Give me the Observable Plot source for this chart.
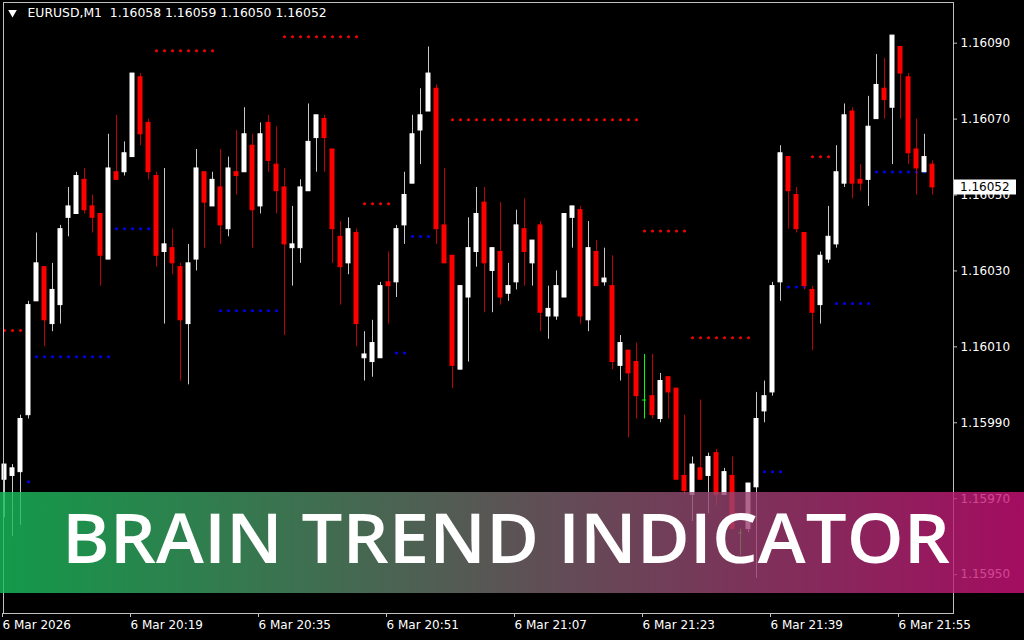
<!DOCTYPE html>
<html><head><meta charset="utf-8">
<script src="https://cdn.jsdelivr.net/npm/d3@7"></script>
<script src="https://cdn.jsdelivr.net/npm/@observablehq/plot@0.6"></script>
<style>html,body{margin:0;padding:0;background:#000;overflow:hidden}</style>
</head><body><div id="chart"></div>
<script>
const symbol = "EURUSD";
const timeframe = "M1";
const bannerTitle = "BRAIN TREND INDICATOR";

const open = [
1.15975,1.15976,1.15977,1.15992,1.16022,1.16031,1.16016,1.16021,1.16044,1.16045,
1.16054,1.16047,1.16045,1.16033,1.16056,1.16056,1.16060,1.16081,1.16069,1.16055,
1.16035,1.16036,1.16031,1.16016,1.16033,1.16056,1.16047,1.16052,1.16041,1.16056,
1.16056,1.16063,1.16047,1.16069,1.16058,1.16052,1.16036,1.16036,1.16051,1.16065,
1.16070,1.16062,1.16039,1.16032,1.16040,1.16007,1.16006,1.16007,1.16027,1.16027,
1.16042,1.16053,1.16067,1.16072,1.16078,1.16042,1.16034,1.16004,1.16023,1.16035,
1.16048,1.16030,1.16035,1.16024,1.16027,1.16041,1.16032,1.16042,1.16018,1.16018,
1.16023,1.16044,1.16046,1.16017,1.16035,1.16027,1.16026,1.16005,1.16009,1.16006,
1.15996,1.15997,1.15991,1.16002,1.15999,1.15976,1.15971,1.15978,1.15976,1.15982,
1.15971,1.15976,1.15961,1.15962,1.15973,1.15993,1.15998,1.16027,1.16060,1.16050,
1.16040,1.16025,1.16021,1.16033,1.16037,1.16053,1.16072,1.16054,1.16054,1.16070,
1.16078,1.16073,1.16089,1.16081,1.16062,1.16056,1.16058];

const high = [
1.15979,1.15979,1.15992,1.16022,1.16040,1.16031,1.16032,1.16042,1.16052,1.16056,
1.16057,1.16050,1.16045,1.16066,1.16071,1.16064,1.16082,1.16082,1.16070,1.16056,
1.16057,1.16041,1.16032,1.16037,1.16062,1.16056,1.16056,1.16062,1.16060,1.16067,
1.16073,1.16066,1.16069,1.16071,1.16068,1.16057,1.16047,1.16054,1.16074,1.16071,
1.16071,1.16062,1.16043,1.16044,1.16041,1.16014,1.16017,1.16027,1.16035,1.16042,
1.16056,1.16071,1.16078,1.16089,1.16079,1.16057,1.16034,1.16026,1.16044,1.16052,
1.16052,1.16036,1.16048,1.16032,1.16046,1.16049,1.16038,1.16043,1.16026,1.16030,
1.16045,1.16047,1.16047,1.16043,1.16038,1.16036,1.16034,1.16013,1.16009,1.16011,
1.16008,1.16008,1.16003,1.16002,1.15999,1.15992,1.15981,1.15996,1.15982,1.15983,
1.15978,1.15981,1.15962,1.15974,1.15998,1.16001,1.16027,1.16063,1.16060,1.16052,
1.16040,1.16026,1.16035,1.16047,1.16063,1.16074,1.16073,1.16058,1.16076,1.16087,
1.16086,1.16092,1.16089,1.16082,1.16070,1.16066,1.16059];

const low = [
1.15965,1.15960,1.15963,1.15991,1.16022,1.16010,1.16014,1.16016,1.16039,1.16045,
1.16045,1.16040,1.16026,1.16033,1.16054,1.16055,1.16060,1.16063,1.16054,1.16031,
1.16016,1.16029,1.16001,1.16000,1.16030,1.16036,1.16047,1.16037,1.16039,1.16050,
1.16056,1.16036,1.16045,1.16056,1.16045,1.16013,1.16026,1.16032,1.16051,1.16056,
1.16056,1.16032,1.16021,1.16029,1.16010,1.16001,1.16002,1.16007,1.16016,1.16023,
1.16037,1.16053,1.16058,1.16072,1.16037,1.16032,1.15999,1.16004,1.16006,1.16031,
1.16019,1.16019,1.16021,1.16022,1.16025,1.16026,1.16026,1.16014,1.16012,1.16017,
1.16023,1.16036,1.16016,1.16014,1.16026,1.16026,1.16004,1.16001,1.15986,1.15991,
1.15991,1.15991,1.15990,1.15991,1.15975,1.15971,1.15964,1.15975,1.15966,1.15968,
1.15971,1.15962,1.15955,1.15961,1.15949,1.15990,1.15997,1.16022,1.16041,1.16040,
1.16025,1.16009,1.16016,1.16032,1.16036,1.16052,1.16049,1.16051,1.16047,1.16070,
1.16070,1.16058,1.16070,1.16058,1.16050,1.16056,1.16050];

const close = [
1.15979,1.15978,1.15991,1.16021,1.16032,1.16017,1.16025,1.16041,1.16047,1.16055,
1.16046,1.16044,1.16034,1.16057,1.16054,1.16061,1.16082,1.16066,1.16056,1.16034,
1.16037,1.16032,1.16017,1.16032,1.16057,1.16048,1.16054,1.16042,1.16057,1.16055,
1.16066,1.16046,1.16066,1.16059,1.16051,1.16037,1.16037,1.16052,1.16064,1.16071,
1.16065,1.16041,1.16031,1.16041,1.16016,1.16008,1.16011,1.16026,1.16026,1.16041,
1.16050,1.16066,1.16071,1.16082,1.16041,1.16032,1.16005,1.16026,1.16036,1.16045,
1.16032,1.16036,1.16023,1.16026,1.16042,1.16035,1.16038,1.16019,1.16020,1.16026,
1.16045,1.16047,1.16018,1.16036,1.16026,1.16028,1.16006,1.16011,1.16003,1.15997,
1.15996,1.15992,1.16001,1.15998,1.15975,1.15972,1.15979,1.15975,1.15981,1.15971,
1.15977,1.15962,1.15961,1.15974,1.15991,1.15997,1.16026,1.16061,1.16051,1.16041,
1.16026,1.16019,1.16034,1.16039,1.16056,1.16071,1.16053,1.16053,1.16068,1.16079,
1.16075,1.16092,1.16082,1.16061,1.16057,1.16060,1.16052];

const _ = null;
// Brain Trend stop levels (red = above price, blue = below price), one per bar
const redStop = [
1.160143,1.160143,1.160143,_,_,_,_,_,_,_,
_,_,_,_,_,_,_,_,_,1.16088,
1.16088,1.16088,1.16088,1.16088,1.16088,1.16088,1.16088,_,_,_,
_,_,_,_,_,1.160917,1.160917,1.160917,1.160917,1.160917,
1.160917,1.160917,1.160917,1.160917,1.160917,1.160477,1.160477,1.160477,1.160477,_,
_,_,_,_,_,_,1.160698,1.160698,1.160698,1.160698,
1.160698,1.160698,1.160698,1.160698,1.160698,1.160698,1.160698,1.160698,1.160698,1.160698,
1.160698,1.160698,1.160698,1.160698,1.160698,1.160698,1.160698,1.160698,1.160698,1.160698,
1.160405,1.160405,1.160405,1.160405,1.160405,1.160405,1.160124,1.160124,1.160124,1.160124,
1.160124,1.160124,1.160124,1.160124,_,_,_,_,_,_,
_,1.160601,1.160601,1.160601,_,_,_,_,_,_,
_,_,_,_,_,_,_];

const blueStop = [
_,_,_,1.159745,1.160074,1.160074,1.160074,1.160074,1.160074,1.160074,
1.160074,1.160074,1.160074,1.160074,1.160411,1.160411,1.160411,1.160411,1.160411,_,
_,_,_,_,_,_,_,1.160195,1.160195,1.160195,
1.160195,1.160195,1.160195,1.160195,1.160195,_,_,_,_,_,
_,_,_,_,_,_,_,_,_,1.160084,
1.160084,1.160391,1.160391,1.160391,_,_,_,_,_,_,
_,_,_,_,_,_,_,_,_,_,
_,_,_,_,_,_,_,_,_,_,
_,_,_,_,_,_,_,_,_,_,
_,_,_,_,_,1.159771,1.159771,1.159771,1.160258,1.160258,
1.160258,_,_,_,1.160214,1.160214,1.160214,1.160214,1.160214,1.160561,
1.160561,1.160561,1.160561,1.160561,1.160561,1.160561,1.160561];

const yTicks = [1.15950,1.15970,1.15990,1.16010,1.16030,1.16050,1.16070,1.16090];
const xTickBars = [0,16,32,48,64,80,96,112];
const xTickLabels = ["6 Mar 2026","6 Mar 20:19","6 Mar 20:35","6 Mar 20:51","6 Mar 21:07","6 Mar 21:23","6 Mar 21:39","6 Mar 21:55"];

// ---- build tables ----
const candles = open.map((o, i) => ({i, o, h: high[i], l: low[i], c: close[i]}));
const bodies = candles.filter(d => d.o !== d.c);
const dojis = candles.filter(d => d.o === d.c);
const reds = redStop.map((v, i) => ({i, v})).filter(d => d.v !== null);
const blues = blueStop.map((v, i) => ({i, v})).filter(d => d.v !== null);
const last = candles[candles.length - 1];
const header = `${symbol},${timeframe}  ${[last.o, last.h, last.l, last.c].map(v => v.toFixed(5)).join(" ")}`;

const BULL = "#ffffff", BEAR = "#ff0000", DOJI = "#00ff00";
const wickColor = d => d.c > d.o ? "#c8c8c8" : d.c < d.o ? "#c00000" : DOJI;
const bodyColor = d => d.c > d.o ? BULL : BEAR;
const halfBody = 0.25; // in bars

function priceBox(index, scales, values, dims) {
  const y = scales.y(last.c);
  const x0 = dims.width - dims.marginRight;
  const g = d3.create("svg:g");
  g.append("rect").attr("x", x0 + 1).attr("y", Math.round(y) - 7.5).attr("width", 62).attr("height", 15).attr("fill", "#fff");
  g.append("text").attr("x", x0 + 7).attr("y", y).attr("dy", "0.35em")
    .attr("text-anchor", "start")
    .attr("fill", "#000").attr("font-size", 12).attr("font-family", "DejaVu Sans")
    .text(last.c.toFixed(5));
  return g.node();
}

function banner(index, scales, values, dims) {
  const g = d3.create("svg:g");
  const grad = g.append("defs").append("linearGradient").attr("id", "bannerGrad")
    .attr("x1", 0).attr("x2", 1).attr("y1", 0).attr("y2", 0);
  grad.append("stop").attr("offset", 0).attr("stop-color", "rgb(24,192,92)");
  grad.append("stop").attr("offset", 1).attr("stop-color", "rgb(204,16,120)");
  g.append("rect").attr("x", 0).attr("y", 492).attr("width", dims.width).attr("height", 101)
    .attr("fill", "url(#bannerGrad)").attr("fill-opacity", 0.8);
  g.append("text").attr("x", 62).attr("y", 563)
    .attr("text-anchor", "start")
    .attr("fill", "#fff").attr("font-family", "'Open Sans'").attr("font-weight", 600)
    .attr("font-size", 69).attr("textLength", 888).attr("lengthAdjust", "spacingAndGlyphs")
    .text(bannerTitle);
  return g.node();
}

const chart = Plot.plot({
  width: 1024,
  height: 640,
  marginLeft: 3,
  marginRight: 71,
  marginTop: 2,
  marginBottom: 27,
  style: {background: "#000", color: "#fff", fontFamily: "DejaVu Sans", fontSize: "12px"},
  x: {type: "linear", domain: [-0.125, 118.625]},
  y: {type: "linear", domain: [1.1593976, 1.1610072]},
  marks: [
    Plot.dot(reds, {x: "i", y: "v", r: 1.5, fill: "#ff0000"}),
    Plot.dot(blues, {x: "i", y: "v", r: 1.5, fill: "#0000ff"}),
    Plot.ruleX(candles, {x: "i", y1: "l", y2: "h", stroke: wickColor, strokeWidth: 1}),
    Plot.rect(bodies, {x1: d => d.i - halfBody, x2: d => d.i + halfBody, y1: "o", y2: "c", fill: bodyColor, stroke: bodyColor, strokeWidth: 1}),
    Plot.ruleY(dojis, {x1: d => d.i - halfBody, x2: d => d.i + halfBody, y: "o", stroke: DOJI}),
    Plot.dot([0], {frameAnchor: "top-left", dx: 9, dy: 10, symbol: "triangle", rotate: 180, r: 3.2, fill: "#fff"}),
    Plot.text([header], {frameAnchor: "top-left", dx: 24, dy: 11, textAnchor: "start", lineAnchor: "middle", fill: "#fff", fontSize: 12.4}),
    Plot.axisY({anchor: "right", ticks: yTicks, tickFormat: d => d.toFixed(5), tickSize: 3, tickPadding: 4, stroke: "#c0c0c0", fill: "#fff", label: null}),
    Plot.axisX({anchor: "bottom", ticks: xTickBars, tickFormat: d => xTickLabels[xTickBars.indexOf(d)], tickSize: 4, tickPadding: 3, textAnchor: "start", dx: -2, stroke: "#c0c0c0", fill: "#fff", label: null}),
    Plot.frame({stroke: "#c0c0c0"}),
    priceBox,
    banner
  ]
});
document.getElementById("chart").appendChild(chart);
</script></body></html>
